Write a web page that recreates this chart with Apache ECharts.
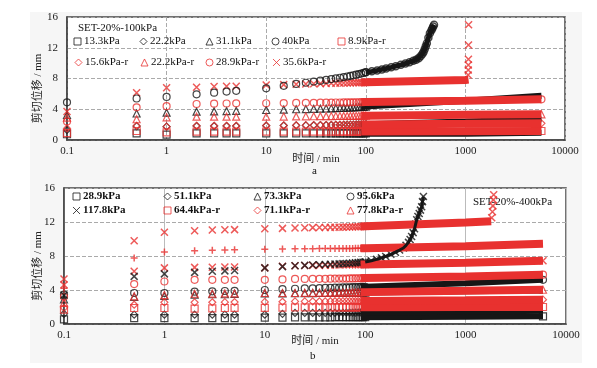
<!DOCTYPE html>
<html><head><meta charset="utf-8">
<script src="https://cdn.jsdelivr.net/npm/echarts@6/dist/echarts.min.js"></script>
<style>html,body{margin:0;padding:0;background:#fff}#c{width:597px;height:368px}</style>
</head><body><div id="c"></div>
<script>
// ---------- DATA ----------
const T = [0.1,0.5,1,2,3,4,5,10,15,20,25,30,35,40,45,50,55,60,65,70,75,80,85,90,95,100];
const BAND_TA = [90,100,1000,5800];
const BAND_TB = [90,100,1000,5900];
const X_TICKS = [0.1,1,10,100,1000,10000];
const Y_TICKS = [0,4,8,12,16];

// chart a: SET-20%-100kPa
const a13_3 = [0.75,0.85,0.7,0.85,0.85,0.85,0.85,0.85,0.85,0.85,0.85,0.85,0.85,0.85,0.85,0.85,0.85,0.85,0.85,0.85,0.85,0.85,0.85,0.85,0.85,0.85];
const a13_3_band = [0.8,0.8,0.8,0.95];
const a22_2 = [1.3,1.8,1.73,1.82,1.82,1.82,1.82,1.86,1.88,1.9,1.9,1.92,1.93,1.94,1.95,1.96,1.97,1.98,1.99,2.0,2.0,2.01,2.02,2.03,2.04,2.05];
const a22_2_band = [2.04,2.05,2.4,2.7];
const a31_1 = [3.25,3.45,3.55,3.68,3.72,3.76,3.8,3.9,3.95,4.0,4.02,4.05,4.07,4.1,4.12,4.14,4.16,4.18,4.2,4.22,4.24,4.26,4.28,4.3,4.32,4.35];
const a31_1_band = [4.32,4.35,5.1,5.75];
const a40 = [4.9,5.4,5.6,5.94,6.15,6.3,6.4,6.72,7.05,7.3,7.45,7.6,7.72,7.82,7.92,8.02,8.1,8.18,8.26,8.34,8.42,8.5,8.57,8.64,8.72,8.8];
const a40_fail_t = [100,115,130,145,160,180,200,225,250,275,300,320,340,355,370,380,390,400,410,425,440,455,465,475,484];
const a40_fail_v = [8.8,8.93,9.05,9.18,9.3,9.45,9.6,9.78,9.95,10.12,10.3,10.45,10.65,10.9,11.2,11.45,11.8,12.2,12.6,13.3,13.9,14.25,14.5,14.75,15.0];
const a8_9r = [0.9,1.17,1.0,1.08,1.08,1.08,1.08,1.08,1.08,1.08,1.08,1.08,1.08,1.1,1.1,1.1,1.1,1.1,1.1,1.1,1.1,1.1,1.1,1.1,1.1,1.1];
const a8_9r_band = [1.1,1.1,1.13,1.17];
const a15_6r = [1.5,1.85,1.73,1.85,1.85,1.85,1.85,1.88,1.9,1.92,1.93,1.94,1.95,1.96,1.97,1.98,1.98,1.99,2.0,2.0,2.0,2.01,2.01,2.02,2.02,2.03];
const a15_6r_band = [2.02,2.03,2.1,2.17];
const a22_2r = [2.9,2.7,2.95,3.03,3.03,3.03,3.03,3.03,3.05,3.07,3.08,3.09,3.1,3.1,3.11,3.12,3.12,3.13,3.13,3.14,3.14,3.15,3.15,3.16,3.16,3.17];
const a22_2r_band = [3.16,3.17,3.28,3.34];
const a28_9r = [2.4,4.25,4.4,4.68,4.72,4.75,4.77,4.78,4.8,4.82,4.83,4.84,4.85,4.86,4.87,4.88,4.88,4.89,4.89,4.9,4.9,4.91,4.91,4.92,4.92,4.93];
const a28_9r_band = [4.92,4.93,5.1,5.29];
const a35_6r = [3.7,6.15,6.8,6.85,6.95,7.0,7.0,7.15,7.2,7.25,7.28,7.31,7.33,7.35,7.37,7.39,7.4,7.41,7.42,7.43,7.44,7.45,7.46,7.47,7.48,7.5];
const a35_6r_band_t = [90,100,1000,1075];
const a35_6r_band_v = [7.48,7.5,7.8,7.85];
const a35_6r_fail_t = [1065,1068,1070,1072,1074,1076];
const a35_6r_fail_v = [8.45,9.1,9.75,10.5,12.35,15.0];

// chart b: SET-20%-400kPa
const b28_9 = [0.55,0.7,0.7,0.7,0.7,0.7,0.7,0.75,0.75,0.78,0.78,0.78,0.78,0.78,0.78,0.8,0.8,0.8,0.8,0.8,0.8,0.8,0.8,0.8,0.8,0.8];
const b28_9_band = [0.8,0.8,0.85,0.9];
const b51_1 = [1.2,1.1,1.1,1.1,1.1,1.1,1.1,1.1,1.2,1.3,1.3,1.3,1.31,1.31,1.32,1.32,1.33,1.33,1.33,1.34,1.34,1.34,1.35,1.35,1.35,1.35];
const b51_1_band = [1.35,1.35,1.45,1.55];
const b73_3 = [2.9,3.2,3.3,3.45,3.5,3.5,3.55,3.6,3.6,3.62,3.63,3.64,3.65,3.65,3.66,3.66,3.67,3.67,3.68,3.68,3.69,3.69,3.7,3.7,3.7,3.7];
const b73_3_band = [3.7,3.7,3.85,3.95];
const b95_6 = [3.45,3.65,3.65,3.8,3.85,3.88,3.9,4.0,4.1,4.15,4.18,4.2,4.22,4.24,4.26,4.28,4.29,4.3,4.31,4.32,4.33,4.34,4.35,4.36,4.37,4.38];
const b95_6_band = [4.37,4.38,4.8,5.2];
const b117_8 = [3.4,5.6,5.9,6.07,6.2,6.25,6.3,6.6,6.75,6.86,6.9,6.95,6.98,7.0,7.02,7.05,7.07,7.1,7.12,7.15,7.17,7.2,7.22,7.25,7.27,7.3];
const b117_8_fail_t = [100,115,130,145,160,180,200,220,240,255,270,280,290,300,310,318,326,335,345,355,365,372,380];
const b117_8_fail_v = [7.3,7.45,7.6,7.78,7.95,8.2,8.45,8.7,8.94,9.25,9.6,9.95,10.3,10.75,11.2,11.75,12.27,12.65,13.0,13.4,13.8,14.4,15.0];
const b64_4r = [1.7,1.88,1.88,1.82,1.85,1.88,1.9,1.9,1.92,1.95,1.95,1.95,1.95,1.95,1.95,1.95,1.95,1.95,1.96,1.96,1.96,1.96,1.96,1.97,1.97,1.97];
const b64_4r_band = [1.97,1.97,2.0,2.0];
const b71_1r = [1.9,2.27,2.55,2.55,2.56,2.57,2.58,2.6,2.62,2.66,2.66,2.67,2.67,2.67,2.68,2.68,2.68,2.69,2.69,2.69,2.7,2.7,2.7,2.7,2.7,2.7];
const b71_1r_band = [2.7,2.7,2.78,2.86];
const b77_8r = [2.5,3.25,3.4,3.56,3.58,3.6,3.6,3.65,3.65,3.65,3.66,3.67,3.68,3.68,3.69,3.7,3.7,3.71,3.71,3.72,3.72,3.73,3.73,3.74,3.74,3.75];
const b77_8r_band = [3.74,3.75,3.9,4.03];
const bRedCircle = [3.2,4.7,5.0,5.2,5.2,5.2,5.2,5.2,5.25,5.3,5.3,5.31,5.32,5.32,5.33,5.34,5.34,5.35,5.35,5.36,5.36,5.37,5.38,5.38,5.39,5.4];
const bRedCircle_band = [5.39,5.4,5.6,5.8];
const bRedCross2 = [4.6,6.2,6.6,6.66,6.68,6.7,6.7,6.6,6.8,6.86,6.88,6.9,6.9,6.92,6.93,6.95,6.95,6.96,6.96,6.97,6.97,6.98,6.98,6.99,6.99,7.0];
const bRedCross2_band = [6.99,7.0,7.2,7.45];
const bRedPlus = [4.2,7.76,8.47,8.62,8.68,8.72,8.74,8.8,8.83,8.85,8.86,8.86,8.87,8.87,8.87,8.88,8.88,8.88,8.89,8.89,8.89,8.9,8.9,8.9,8.9,8.9];
const bRedPlus_band = [8.9,8.9,9.15,9.45];
const bRedCross1 = [5.3,9.8,10.8,10.97,11.05,11.08,11.1,11.2,11.25,11.3,11.32,11.34,11.35,11.36,11.37,11.38,11.39,11.4,11.41,11.42,11.43,11.44,11.45,11.46,11.47,11.5];
const bRedCross1_band_t = [90,100,1000,1800];
const bRedCross1_band_v = [11.47,11.5,11.95,12.1];
const bRedCross1_fail_t = [1820,1850,1870,1890,1905];
const bRedCross1_fail_v = [12.5,13.2,13.9,14.6,15.2];

// ---------- STYLE / BUILD ----------
const RED = '#e8312f', BLK = '#161616';
const SERIF = "'Liberation Serif','Noto Sans CJK SC',serif";
const CJK = "'Liberation Serif','Noto Sans CJK SC',sans-serif";
const SYM = {
  sq:'rect', dia:'diamond', tri:'triangle', cir:'circle',
  x:'path://M0,0L10,10M10,0L0,10',
  plus:'path://M5,0L5,10M0,5L10,5'
};
const zip = (ts, vs) => ts.map((t,i)=>[t, vs[i]]);

const bands = [], marks = [], fails = [];
function add(g, name, sym, color, vals, bandT, bandV, endMark, failT, failV, failLine) {
  const pts = zip(T, vals);
  if (endMark) pts.push([bandT[bandT.length-1], bandV[bandV.length-1]]);
  const isLine = sym==='x'||sym==='plus';
  marks.push({type:'scatter', name, xAxisIndex:g, yAxisIndex:g, symbol:SYM[sym], symbolSize:7,
    itemStyle:{color:'rgba(0,0,0,0)', borderColor:color, borderWidth:isLine?1.5:1.2}, data:pts, silent:true, animation:false});
  if (bandT) bands.push({type:'line', name:name+'~', xAxisIndex:g, yAxisIndex:g, showSymbol:false, silent:true, animation:false,
    lineStyle:{width:color===RED?8:6, color, cap:'butt'}, data:zip(bandT, bandV)});
  if (failT) {
    if (failLine) fails.push({type:'line', name:name+'~f', xAxisIndex:g, yAxisIndex:g, showSymbol:false, silent:true, animation:false,
      lineStyle:{width:sym==='cir'?5:3, color}, data:zip(failT, failV)});
    fails.push({type:'scatter', name:name+'~p', xAxisIndex:g, yAxisIndex:g, symbol:SYM[sym], symbolSize:7, silent:true, animation:false,
      itemStyle:{color:'rgba(0,0,0,0)', borderColor:color, borderWidth:1.5}, data:zip(failT, failV)});
  }
}
// chart a
add(0,'13.3kPa','sq',BLK,a13_3,BAND_TA,a13_3_band,false);
add(0,'22.2kPa','dia',BLK,a22_2,BAND_TA,a22_2_band,false);
add(0,'31.1kPa','tri',BLK,a31_1,BAND_TA,a31_1_band,false);
add(0,'8.9kPa-r','sq',RED,a8_9r,BAND_TA,a8_9r_band,true);
add(0,'15.6kPa-r','dia',RED,a15_6r,BAND_TA,a15_6r_band,true);
add(0,'22.2kPa-r','tri',RED,a22_2r,BAND_TA,a22_2r_band,true);
add(0,'28.9kPa-r','cir',RED,a28_9r,BAND_TA,a28_9r_band,true);
add(0,'35.6kPa-r','x',RED,a35_6r,a35_6r_band_t,a35_6r_band_v,false,a35_6r_fail_t,a35_6r_fail_v,false);
add(0,'40kPa','cir',BLK,a40,null,null,false,a40_fail_t,a40_fail_v,true);
// chart b
add(1,'28.9kPa','sq',BLK,b28_9,BAND_TB,b28_9_band,true);
add(1,'51.1kPa','dia',BLK,b51_1,BAND_TB,b51_1_band,false);
add(1,'73.3kPa','tri',BLK,b73_3,BAND_TB,b73_3_band,false);
add(1,'95.6kPa','cir',BLK,b95_6,BAND_TB,b95_6_band,true);
add(1,'64.4kPa-r','sq',RED,b64_4r,BAND_TB,b64_4r_band,true);
add(1,'71.1kPa-r','dia',RED,b71_1r,BAND_TB,b71_1r_band,true);
add(1,'77.8kPa-r','tri',RED,b77_8r,BAND_TB,b77_8r_band,true);
add(1,'b-red-circle','cir',RED,bRedCircle,BAND_TB,bRedCircle_band,true);
add(1,'b-red-cross2','x',RED,bRedCross2,BAND_TB,bRedCross2_band,true);
add(1,'b-red-plus','plus',RED,bRedPlus,BAND_TB,bRedPlus_band,false);
add(1,'b-red-cross1','x',RED,bRedCross1,bRedCross1_band_t,bRedCross1_band_v,false,bRedCross1_fail_t,bRedCross1_fail_v,false);
add(1,'117.8kPa','x',BLK,b117_8,null,null,false,b117_8_fail_t,b117_8_fail_v,true);

function leg(name, cx, cy, bold) {
  return {data:[name], left:cx-3.5, top:cy-7, padding:0, itemWidth:7, itemHeight:7, itemGap:0, selectedMode:false,
    itemStyle:{color:'rgba(0,0,0,0)', borderWidth:1},
    textStyle:{fontFamily:SERIF, fontSize:11, color:'#111', fontWeight:bold?'bold':'normal', padding:[0,0,0,-2]}};
}
const legends = [
  leg('13.3kPa',77,43), leg('22.2kPa',143,43), leg('31.1kPa',209,43), leg('40kPa',275,43), leg('8.9kPa-r',341,43),
  leg('15.6kPa-r',78,64), leg('22.2kPa-r',144,64), leg('28.9kPa-r',209,64), leg('35.6kPa-r',276,64),
  leg('28.9kPa',76,198,true), leg('51.1kPa',167,198,true), leg('73.3kPa',257,198,true), leg('95.6kPa',350,198,true),
  leg('117.8kPa',76,212,true), leg('64.4kPa-r',167,212,true), leg('71.1kPa-r',257,212,true), leg('77.8kPa-r',350,212,true)
];

function xAx(g, gap, solid) {
  return {type:'log', logBase:10, gridIndex:g, min:X_TICKS[0], max:X_TICKS[X_TICKS.length-1],
    name:'时间 / min', nameLocation:'middle', nameGap:gap, nameMoveOverlap:false,
    nameTextStyle:{fontFamily:CJK, fontSize:11, color:'#222'},
    axisLine:{show:true, lineStyle:{color:'#444', width:1.5}}, axisTick:{show:false}, minorTick:{show:false},
    axisLabel:{fontFamily:SERIF, fontSize:11, color:'#222', margin:6, formatter:v=>String(v)},
    splitLine:{show:true, lineStyle:{color:solid?'#bbb':'#aaa', type:solid?'solid':'dashed', width:1}}};
}
function yAx(g, gap) {
  return {type:'value', gridIndex:g, min:Y_TICKS[0], max:Y_TICKS[Y_TICKS.length-1], interval:4,
    name:'剪切位移 / mm', nameLocation:'middle', nameGap:gap, nameMoveOverlap:false,
    nameTextStyle:{fontFamily:CJK, fontSize:11, color:'#222', padding:[0,20,0,0]},
    axisLine:{show:true, lineStyle:{color:'#444', width:1.5}}, axisTick:{show:false},
    axisLabel:{fontFamily:SERIF, fontSize:11, color:'#222', margin:9},
    splitLine:{show:true, lineStyle:{color:'#aaa', type:'dashed', width:1}}};
}

const chart = echarts.init(document.getElementById('c'), null, {renderer:'canvas'});
chart.setOption({
  animation:false,
  backgroundColor:'#fff',
  graphic:[
    {type:'rect', shape:{x:30,y:12,width:552,height:351}, style:{fill:'#f6f6f6'}, z:-100, silent:true},
    {type:'text', left:78, top:23, style:{text:'SET-20%-100kPa', font:"11px 'Liberation Serif'", fill:'#111'}},
    {type:'text', left:473, top:197, style:{text:'SET-20%-400kPa', font:"11px 'Liberation Serif'", fill:'#111'}},
    {type:'text', left:312, top:166, style:{text:'a', font:"11px 'Liberation Serif'", fill:'#111'}},
    {type:'text', left:310, top:351, style:{text:'b', font:"11px 'Liberation Serif'", fill:'#111'}}
  ],
  grid:[
    {left:67, top:17, width:498, height:123, show:true, backgroundColor:'#fff', borderColor:'#444', borderWidth:1.5},
    {left:64, top:188, width:502, height:136, show:true, backgroundColor:'#fff', borderColor:'#444', borderWidth:1.5}
  ],
  xAxis:[xAx(0,14,false), xAx(1,12,true)],
  yAxis:[yAx(0,23), yAx(1,20)],
  legend:legends,
  series:[...bands, ...marks, ...fails]
});
</script></body></html>
